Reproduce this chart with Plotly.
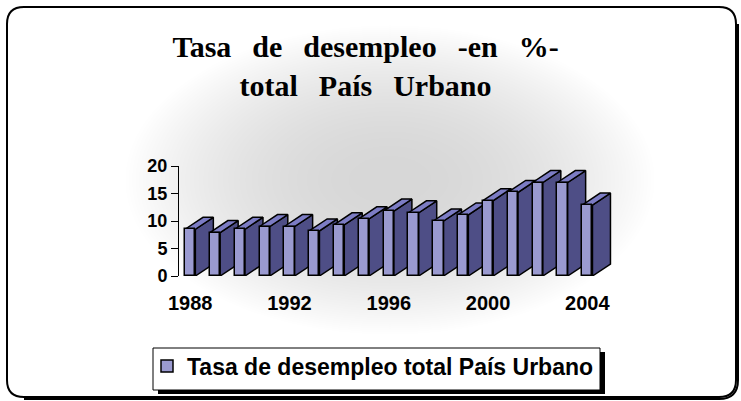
import plotly.graph_objects as go

# ---------------- data ----------------
years = list(range(1988, 2005))
values = [8.5, 7.9, 8.5, 9.0, 9.0, 8.2, 9.3, 10.4, 11.8, 11.5, 10.0, 11.1, 13.7, 15.2, 17.0, 17.0, 12.9]
x_ticks = [1988, 1992, 1996, 2000, 2004]
y_ticks = [0, 5, 10, 15, 20]
series_name = "Tasa de desempleo total País Urbano"
title_lines = ["Tasa de desempleo -en %-", "total País Urbano"]

# ---------------- style ----------------
W, H = 741, 401
ML, MR, MT, MB = 179, 101, 166, 125
PW, PH = W - ML - MR, H - MT - MB
BAR_W = 0.415          # front face width (years)
DEPTH_X = 0.725        # 3D depth offset (years)
DEPTH_Y = 2.18         # 3D depth offset (value units)
FRONT = "#9A9AD0"
SIDE = "#4E4E86"
TOP = "#7C7CC4"
EDGE = "black"
SANS = "Liberation Sans, Arial, sans-serif"
SERIF = "Liberation Serif, Times New Roman, serif"

px_per_year = 24.82
x_lo = 1988 - 11.2 / px_per_year
x_hi = x_lo + PW / px_per_year


def fx(p):
    return (p - ML) / PW


def fy(p):
    return (H - MB - p) / PH


# ---------------- 3D faces (derived from data) ----------------
sx, sy, tx, ty = [], [], [], []
for yr, v in zip(years, values):
    xl = yr - BAR_W / 2
    xr = yr + BAR_W / 2
    sx += [xr, xr + DEPTH_X, xr + DEPTH_X, xr, xr, None]
    sy += [0, DEPTH_Y, v + DEPTH_Y, v, 0, None]
    tx += [xl, xr, xr + DEPTH_X, xl + DEPTH_X, xl, None]
    ty += [v, v, v + DEPTH_Y, v + DEPTH_Y, v, None]

fig = go.Figure()
fig.add_trace(go.Scatter(x=sx, y=sy, mode="lines", fill="toself", fillcolor=SIDE,
                         line=dict(color=EDGE, width=1.5), showlegend=False, hoverinfo="skip"))
fig.add_trace(go.Scatter(x=tx, y=ty, mode="lines", fill="toself", fillcolor=TOP,
                         line=dict(color=EDGE, width=1.5), showlegend=False, hoverinfo="skip"))
fig.add_trace(go.Bar(x=years, y=values, width=BAR_W, name=series_name,
                     marker=dict(color=FRONT, line=dict(color=EDGE, width=1.5)),
                     xaxis="x2", yaxis="y2"))

# ---------------- decorations ----------------
shapes = []
# soft radial gray background
cx, cy = 390, 180
N = 40
for i in range(N):
    f = (1 - i / N) ** 0.5
    rx, ry = 265 * f, 155 * f
    shapes.append(dict(type="circle", xref="paper", yref="paper",
                       x0=fx(cx - rx), x1=fx(cx + rx), y0=fy(cy + ry), y1=fy(cy - ry),
                       fillcolor="rgba(0,0,0,0.0055)", line=dict(width=0), layer="below"))


def rrect(x0, y0, x1, y1, r):
    pts = [
        ("M", [(x0 + r, y0)]), ("L", [(x1 - r, y0)]), ("Q", [(x1, y0), (x1, y0 + r)]),
        ("L", [(x1, y1 - r)]), ("Q", [(x1, y1), (x1 - r, y1)]), ("L", [(x0 + r, y1)]),
        ("Q", [(x0, y1), (x0, y1 - r)]), ("L", [(x0, y0 + r)]), ("Q", [(x0, y0), (x0 + r, y0)]),
    ]
    s = ""
    for cmd, ps in pts:
        s += cmd + " " + " ".join(f"{fx(a):.5f},{fy(b):.5f}" for a, b in ps) + " "
    return s + "Z"


# outer border + partial shadow
bx0, by0, bx1, by1, br = 7, 7, 736, 397, 17
shapes.append(dict(type="path", xref="paper", yref="paper", path=rrect(bx0, by0, bx1, by1, br),
                   line=dict(color="black", width=2), fillcolor="rgba(0,0,0,0)", layer="above"))
sh = (f"M {fx(bx1+2):.5f},{fy(by0+br):.5f} L {fx(bx1+2):.5f},{fy(by1-br):.5f} "
      f"Q {fx(bx1+2):.5f},{fy(by1+2):.5f} {fx(bx1-br):.5f},{fy(by1+2):.5f} "
      f"L {fx(bx0+br):.5f},{fy(by1+2):.5f}")
shapes.append(dict(type="path", xref="paper", yref="paper", path=sh,
                   line=dict(color="black", width=2), layer="above"))

# legend box with shadow
lx0, ly0, lx1, ly1 = 153, 348, 600, 390
shapes.append(dict(type="rect", xref="paper", yref="paper",
                   x0=fx(lx0 + 5), x1=fx(lx1 + 5), y0=fy(ly1 + 4), y1=fy(ly0 + 4),
                   fillcolor="black", line=dict(width=0), layer="below"))
shapes.append(dict(type="rect", xref="paper", yref="paper",
                   x0=fx(lx0), x1=fx(lx1), y0=fy(ly1), y1=fy(ly0),
                   fillcolor="white", line=dict(color="black", width=1), layer="below"))

gap = "\u2002\u2009"
title_text = "<br>".join(gap.join(line.split(" ")) for line in title_lines)

fig.update_layout(
    width=W, height=H, autosize=False,
    margin=dict(l=ML, r=MR, t=MT, b=MB, pad=0),
    paper_bgcolor="white", plot_bgcolor="rgba(0,0,0,0)",
    title=dict(text=title_text, x=365.5 / W, xanchor="center", xref="container",
               y=1 - 56.5 / H, yanchor="top", yref="container",
               font=dict(family=SERIF, size=30, color="black", weight="bold")),
    xaxis=dict(range=[x_lo, x_hi], tickmode="array", tickvals=x_ticks, ticktext=[str(t) for t in x_ticks],
               ticks="outside", ticklen=9, tickcolor="rgba(0,0,0,0)",
               showline=False, showgrid=False, zeroline=False,
               tickfont=dict(family=SANS, size=20, color="black", weight="bold")),
    yaxis=dict(range=[0, 20], tickmode="array", tickvals=y_ticks,
               ticks="outside", ticklen=7, tickcolor="black", tickwidth=1,
               showline=True, linecolor="black", linewidth=1,
               showgrid=False, zeroline=False,
               tickfont=dict(family=SANS, size=18, color="black", weight="bold")),
    xaxis2=dict(range=[x_lo, x_hi], overlaying="x", visible=False),
    yaxis2=dict(range=[0, 20], overlaying="y", visible=False),
    showlegend=True,
    legend=dict(x=fx(147), xanchor="left", y=fy(366), yanchor="middle",
                bgcolor="rgba(0,0,0,0)", borderwidth=0,
                font=dict(family=SANS, size=23, color="black", weight="bold")),
    shapes=shapes,
    bargap=0,
)

fig.write_html("out.html", config={"displayModeBar": False},
               post_script="document.body.style.margin='0px';")
